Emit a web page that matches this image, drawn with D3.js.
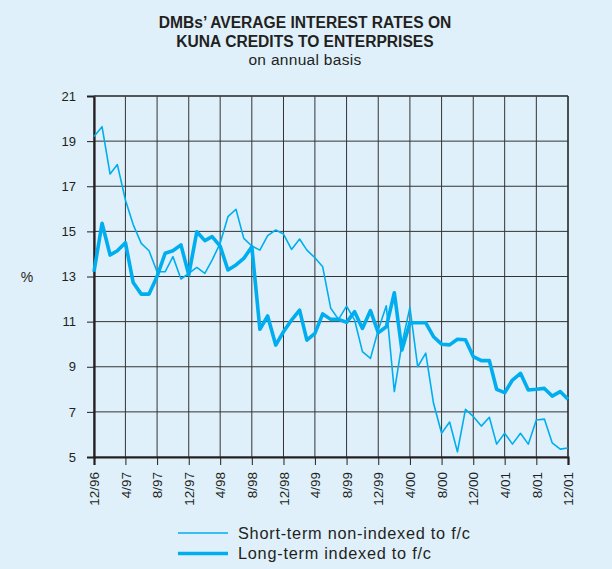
<!DOCTYPE html>
<html>
<head>
<meta charset="utf-8">
<script src="https://cdn.jsdelivr.net/npm/d3@7"></script>
<style>
  html, body { margin: 0; padding: 0; background: #dff0fb; }
  svg { display: block; font-family: "Liberation Sans", Arial, sans-serif; }
</style>
</head>
<body>
<div id="chart"></div>
<script>
// monthly, 12/96 .. 12/01
const months = d3.range(61).map(i => new Date(1996, 11 + i, 1));
const tickLabels = ["12/96","4/97","8/97","12/97","4/98","8/98","12/98","4/99","8/99","12/99","4/00","8/00","12/00","4/01","8/01","12/01"];
const yTicks = [5, 7, 9, 11, 13, 15, 17, 19, 21];

const shortTerm = [19.2, 19.64, 17.54, 17.96, 16.39, 15.3, 14.47, 14.14, 13.21, 13.21,
  13.88, 12.89, 13.14, 13.4, 13.14, 13.73, 14.47, 15.65, 15.98, 14.69,
  14.35, 14.17, 14.81, 15.06, 14.88, 14.2, 14.66, 14.17, 13.83, 13.43,
  11.59, 11.1, 11.69, 11.07, 9.67, 9.37, 10.63, 11.7, 7.9, 10.0,
  11.63, 9.0, 9.6, 7.38, 6.05, 6.55, 5.23, 7.11, 6.8, 6.37,
  6.76, 5.57, 6.05, 5.57, 6.05, 5.57, 6.64, 6.68, 5.63, 5.35, 5.4];

const longTerm = [13.21, 15.36, 13.95, 14.14, 14.5, 12.73, 12.22, 12.22, 13.0, 14.03,
  14.14, 14.4, 13.07, 14.98, 14.59, 14.77, 14.35, 13.29, 13.51, 13.8,
  14.32, 10.66, 11.25, 9.96, 10.55, 11.07, 11.51, 10.18, 10.48, 11.34,
  11.1, 11.1, 10.97, 11.44, 10.7, 11.49, 10.51, 10.77, 12.28, 9.74,
  10.95, 10.95, 10.95, 10.33, 10.0, 9.97, 10.22, 10.2, 9.45, 9.27,
  9.27, 8.0, 7.85, 8.41, 8.71, 7.97, 8.0, 8.04, 7.7, 7.9, 7.56];

const W = 612, H = 569;
const m = { left: 94, right: 44, top: 96, bottom: 112 };
const blue = "#00aeef", ink = "#231f20";

const svg = d3.select("#chart").append("svg").attr("width", W).attr("height", H);
svg.append("rect").attr("width", W).attr("height", H).attr("fill", "#dff0fb");

const x = d3.scaleTime().domain([months[0], months[60]]).range([m.left, W - m.right]);
const y = d3.scaleLinear().domain([5, 21]).range([H - m.bottom, m.top]);
const tickDates = d3.range(0, 61, 4).map(i => months[i]);

// titles
const title = svg.append("g").attr("text-anchor", "middle").attr("fill", ink);
title.append("text").attr("x", 305).attr("y", 28.3).attr("font-weight", "bold").attr("font-size", 15.6)
  .text("DMBs’ AVERAGE INTEREST RATES ON");
title.append("text").attr("x", 305).attr("y", 46.8).attr("font-weight", "bold").attr("font-size", 15.6)
  .text("KUNA CREDITS TO ENTERPRISES");
title.append("text").attr("x", 305).attr("y", 64.5).attr("font-size", 15.5).attr("letter-spacing", 0.3)
  .text("on annual basis");

// grid
const grid = svg.append("g").attr("stroke", "#333").attr("stroke-width", 1);
grid.selectAll(".v").data(tickDates).join("line")
  .attr("x1", d => x(d)).attr("x2", d => x(d)).attr("y1", y(21)).attr("y2", y(5));
grid.selectAll(".h").data(yTicks).join("line")
  .attr("x1", x.range()[0]).attr("x2", x.range()[1]).attr("y1", d => y(d)).attr("y2", d => y(d));

// axes
const yAxis = svg.append("g").attr("transform", `translate(${m.left},0)`)
  .call(d3.axisLeft(y).tickValues(yTicks).tickSize(7).tickPadding(11).tickFormat(d3.format("d")));
yAxis.select(".domain").attr("stroke", ink).attr("stroke-width", 2.2);
yAxis.selectAll(".tick line").attr("stroke", ink);
yAxis.selectAll("text").attr("font-size", 13).attr("fill", ink).attr("font-family", "'Liberation Sans', Arial");

const xAxis = svg.append("g").attr("transform", `translate(0,${H - m.bottom})`)
  .call(d3.axisBottom(x).tickValues(tickDates).tickSize(8).tickFormat((d, i) => tickLabels[i]));
xAxis.select(".domain").attr("stroke", ink).attr("stroke-width", 2.2);
xAxis.selectAll(".tick line").attr("stroke", ink);
xAxis.selectAll("text").attr("font-size", 13.5).attr("fill", ink)
  .attr("font-family", "'Liberation Sans', Arial")
  .attr("transform", "rotate(-90)").attr("text-anchor", "end")
  .attr("x", -15).attr("y", 0).attr("dy", "0.35em");

// top / right frame
svg.append("line").attr("x1", m.left).attr("x2", W - m.right).attr("y1", y(21)).attr("y2", y(21))
  .attr("stroke", "#444").attr("stroke-width", 1.6);
svg.append("line").attr("x1", W - m.right).attr("x2", W - m.right).attr("y1", y(21)).attr("y2", y(5))
  .attr("stroke", "#333").attr("stroke-width", 1.4);

svg.append("text").attr("x", 27).attr("y", 282).attr("text-anchor", "middle")
  .attr("font-size", 14).attr("fill", ink).text("%");

// lines
const line = d3.line().x((d, i) => x(months[i])).y(d => y(d)).curve(d3.curveLinear);
svg.append("path").datum(shortTerm).attr("d", line).attr("fill", "none")
  .attr("stroke", blue).attr("stroke-width", 1.6).attr("stroke-linejoin", "round");
svg.append("path").datum(longTerm).attr("d", line).attr("fill", "none")
  .attr("stroke", blue).attr("stroke-width", 3.6).attr("stroke-linejoin", "round");

// legend
const legend = [
  { label: "Short-term non-indexed to f/c", w: 1.6 },
  { label: "Long-term indexed to f/c", w: 3.6 }
];
const lg = svg.append("g").selectAll("g").data(legend).join("g")
  .attr("transform", (d, i) => `translate(178,${533 + i * 20.5})`);
lg.append("line").attr("x1", 0).attr("x2", 50).attr("stroke", blue).attr("stroke-width", d => d.w);
lg.append("text").attr("x", 60).attr("y", 0).attr("dy", "0.35em").attr("font-size", 16.3)
  .attr("letter-spacing", 0.75).attr("fill", ink).text(d => d.label);
</script>
</body>
</html>
